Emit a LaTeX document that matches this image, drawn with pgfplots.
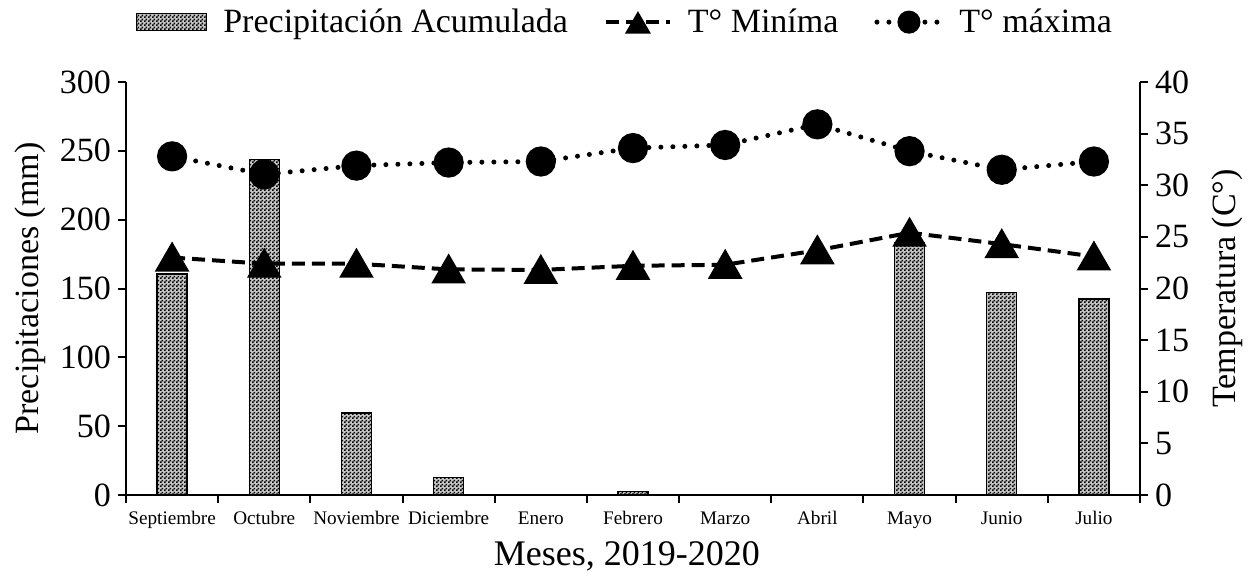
\documentclass[border=0pt]{standalone}
\usepackage{fontspec}
\setmainfont{Liberation Serif}
\usepackage{pgfplots}
\pgfplotsset{compat=1.18}
\usetikzlibrary{patterns}
\pgfdeclarepatternformonly{finecheck}{\pgfqpoint{0pt}{0pt}}{\pgfqpoint{2pt}{2pt}}{\pgfqpoint{2pt}{2pt}}{%
 \pgfpathrectangle{\pgfqpoint{0pt}{0pt}}{\pgfqpoint{1pt}{1pt}}%
 \pgfpathrectangle{\pgfqpoint{1pt}{1pt}}{\pgfqpoint{1pt}{1pt}}%
 \pgfusepath{fill}}
\tikzset{checkbar/.style={fill=gray!45, postaction={pattern=finecheck}, draw=black, line width=0.7pt}}
\newcommand\mainfs{\fontsize{17}{20}\selectfont}
\newcommand\xlfs{\fontsize{18}{21}\selectfont}
\newcommand\smallfs{\fontsize{9.6}{11}\selectfont}
\pgfplotsset{
  base/.style={width=507pt, height=206.5pt, scale only axis, xmin=-0.5, xmax=10.5,
    /pgf/number format/assume math mode=true,
    tick label style={font=\mainfs}, label style={font=\mainfs},
    axis line style={line width=1pt}, tick style={line width=1pt, black},
    tick align=outside, major tick length=4pt},
  legA/.style={legend image code/.code={\draw[mark repeat=2,mark phase=2,##1,mark size=5.5pt] plot coordinates {(0pt,0pt) (16pt,0pt) (32pt,0pt)};}},
  legB/.style={legend image code/.code={\draw[mark repeat=2,mark phase=2,##1,mark size=4.5pt] plot coordinates {(0pt,0pt) (16pt,0pt) (32pt,0pt)};}},
}
\begin{document}
\begin{tikzpicture}
\begin{axis}[base, name=main, ymin=0, ymax=300, ytick={0,50,...,300},
  axis x line*=bottom, axis y line*=left,
  xtick={-0.5,0.5,...,10.5}, xticklabels={},
  extra x ticks={0,1,...,10},
  extra x tick labels={Septiembre,Octubre,Noviembre,Diciembre,Enero,Febrero,Marzo,Abril,Mayo,Junio,Julio},
  extra x tick style={major tick length=0pt, tick label style={font=\smallfs, yshift=-4pt, text height=7pt, text depth=2pt}},
  xlabel={Meses, 2019-2020},
  x label style={at={(axis description cs:0.494,-0.149)}, anchor=center, font=\xlfs},
  ylabel={Precipitaciones (mm)},
  y label style={at={(axis description cs:-0.0947,0.5)}, anchor=center},
]
\addplot[ybar, bar width=15pt, checkbar] coordinates {
(0,160.5) (1,243.8) (2,59.6) (3,12.5) (4,0) (5,2.4) (6,0) (7,0) (8,183.5) (9,147.3) (10,142.5)};
\end{axis}
\begin{axis}[base, at={(main.south west)}, anchor=south west, ymin=0, ymax=40, ytick={0,5,...,40},
  axis y line*=right, axis x line=none,
  ylabel={Temperatura (C°)},
  y label style={at={(axis description cs:1.0858,0.5)}, anchor=center},
  legend style={draw=none, fill=none, at={(0.493,1.145)}, anchor=center, legend columns=-1, font=\mainfs,
    /tikz/every odd column/.append style={column sep=6pt},
    /tikz/every even column/.append style={column sep=16pt}},
]
\addlegendimage{legend image code/.code={\draw[checkbar] (0pt,-4.2pt) rectangle (35pt,4.2pt);}}
\addlegendentry{Precipitación Acumulada}
\addplot[black, line width=2pt, dash pattern=on 6.5pt off 3.5pt, mark=triangle*, mark size=8pt, mark options={solid, yshift=-2pt}, legA] coordinates {
(0,23.0) (1,22.4) (2,22.4) (3,21.85) (4,21.8) (5,22.2) (6,22.3) (7,23.7) (8,25.4) (9,24.3) (10,23.1)};
\addlegendentry{T° Miníma}
\addplot[black, line width=2.5pt, line cap=round, dash pattern=on 0pt off 6pt, mark=*, mark size=6.3pt, mark options={solid}, legB] coordinates {
(0,32.8) (1,31.05) (2,31.9) (3,32.2) (4,32.3) (5,33.6) (6,33.9) (7,35.9) (8,33.3) (9,31.5) (10,32.3)};
\addlegendentry{T° máxima}
\end{axis}
\pgfresetboundingbox
\path[use as bounding box] ([shift={(-63pt,-41.5pt)}]main.south west) rectangle ++(625.5pt,289pt);
\end{tikzpicture}
\end{document}
